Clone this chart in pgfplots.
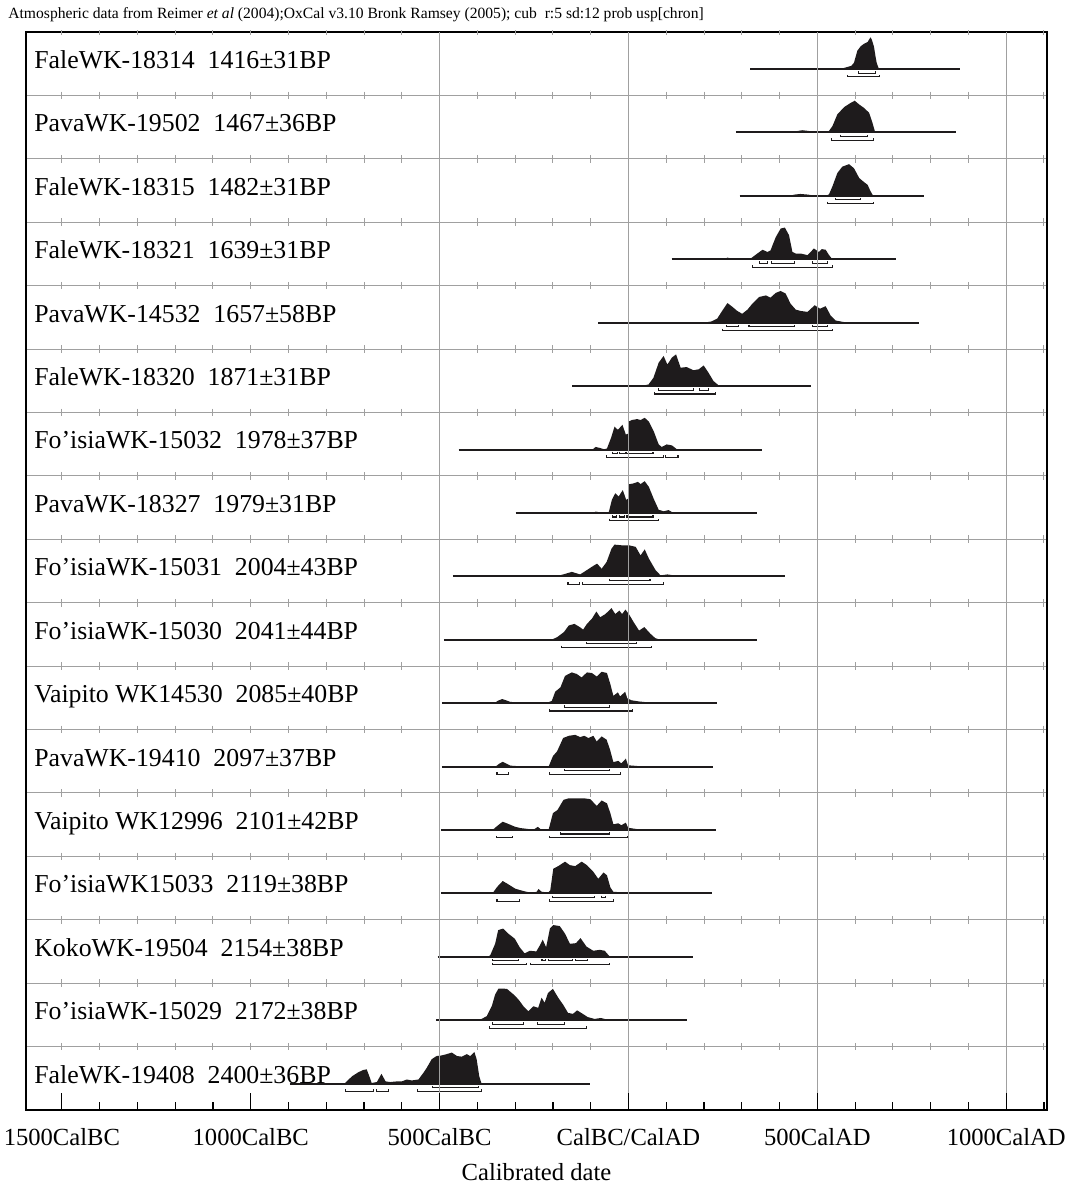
\documentclass[border=0pt]{standalone}
\usepackage{fontspec}
\setmainfont{Liberation Serif}
\usepackage{pgfplots}
\pgfplotsset{compat=1.18}
\definecolor{ink}{RGB}{30,27,28}
\definecolor{gridc}{RGB}{160,160,160}
\newcommand\lab{\fontsize{12.9pt}{15pt}\selectfont}
\newcommand\gap{\hspace{0.5em}}

% small ticks on the row separators, every 100 years
\newcommand{\tickrow}[2]{%
  \addplot[draw=gridc, line width=0.5pt, only marks, mark=|, mark size=#2, mark options={draw=gridc, line width=0.5pt}] coordinates {(-1500,#1)(-1400,#1)(-1300,#1)(-1200,#1)(-1100,#1)(-1000,#1)(-900,#1)(-800,#1)(-700,#1)(-600,#1)(-400,#1)(-300,#1)(-200,#1)(-100,#1)(100,#1)(200,#1)(300,#1)(400,#1)(600,#1)(700,#1)(800,#1)(900,#1)(1100,#1)};
}

% #1 row index (1 = top), #2 label, #3,#4 extent of the line, #5 density (year, relative height)
\newcommand{\drow}[5]{%
  \addplot[ink, line width=1pt, y filter/.expression={y+17.416-#1}] coordinates {(#3,0) (#4,0)};
  \addplot[fill=ink, draw=none, y filter/.expression={0.5*y+17.416-#1}] coordinates {#5};
  \node[anchor=base west, font=\lab, inner sep=0pt] at (axis cs:-1574,{17.424-#1}) {#2};
}
% 68.2% range
\newcommand{\rA}[3]{%
  \addplot[ink, line width=0.55pt, y filter/.expression={y+17.416-#1}] coordinates {(#2,-0.035) (#2,-0.064) (#3,-0.064) (#3,-0.035)};
}
% 95.4% range
\newcommand{\rB}[3]{%
  \addplot[ink, line width=0.55pt, y filter/.expression={y+17.416-#1}] coordinates {(#2,-0.092) (#2,-0.124) (#3,-0.124) (#3,-0.092)};
}

\begin{document}
\begin{tikzpicture}
\path[use as bounding box] (0,0) rectangle (537.5pt,592.5pt);
\begin{axis}[
  at={(13pt,37.5pt)}, anchor=south west,
  scale only axis, width=510.5pt, height=539pt,
  xmin=-1595, xmax=1108, ymin=0, ymax=17,
  axis on top,
  clip=false,
  axis line style={black, line width=0.6pt},
  xtick={-1500,-1000,-500,0,500,1000},
  xticklabels={1500CalBC,1000CalBC,500CalBC,CalBC/CalAD,500CalAD,1000CalAD},
  minor xtick={-1500,-1400,...,1100},
  xtick pos=lower,
  tick align=inside,
  major tick length=8.5pt, minor tick length=4pt,
  every tick/.style={black, line width=0.6pt},
  xticklabel style={font=\fontsize{12.3pt}{14pt}\selectfont, yshift=-5.5pt},
  extra x ticks={-500,0,500,1000},
  extra x tick labels={},
  extra x tick style={grid=major},
  ytick={1,...,16}, yticklabels={},
  ymajorgrids,
  ytick style={draw=none},
  major grid style={gridc, line width=0.5pt},
  xlabel={Calibrated date},
  xlabel style={font=\fontsize{12.3pt}{14pt}\selectfont, yshift=-2pt},
]
\tickrow{1}{1.9pt}\tickrow{2}{1.9pt}\tickrow{3}{1.9pt}\tickrow{4}{1.9pt}
\tickrow{5}{1.9pt}\tickrow{6}{1.9pt}\tickrow{7}{1.9pt}\tickrow{8}{1.9pt}
\tickrow{9}{1.9pt}\tickrow{10}{1.9pt}\tickrow{11}{1.9pt}\tickrow{12}{1.9pt}
\tickrow{13}{1.9pt}\tickrow{14}{1.9pt}\tickrow{15}{1.9pt}\tickrow{16}{1.9pt}
\tickrow{16.988}{1.3pt}

\drow{1}{FaleWK-18314\gap1416±31BP}{323}{878}{(562,0)(575,0.05)(590,0.1)(597,0.2)(606,0.58)(615,0.72)(624,0.8)(633,0.85)(638,0.95)(641,1)(645,0.9)(650,0.7)(654,0.4)(657,0.2)(663,0)}
\rA{1}{608}{654}\rB{1}{581}{664}

\drow{2}{PavaWK-19502\gap1467±36BP}{284}{868}{(430,0)(445,0.04)(460,0.07)(475,0.05)(490,0.01)(525,0.01)(531,0.05)(540,0.2)(553,0.57)(571,0.8)(588,0.93)(599,1)(611,0.88)(624,0.77)(637,0.62)(646,0.3)(652,0.05)(657,0)}
\rA{2}{562}{633}\rB{2}{538}{648}

\drow{3}{FaleWK-18315\gap1482±31BP}{294}{783}{(425,0)(440,0.04)(455,0.06)(475,0.04)(490,0.01)(525,0.01)(531,0.05)(540,0.3)(553,0.72)(566,0.92)(584,1)(597,0.87)(611,0.56)(624,0.43)(633,0.35)(641,0.14)(648,0)}
\rA{3}{549}{615}\rB{3}{528}{648}

\drow{4}{FaleWK-18321\gap1639±31BP}{114}{707}{(250,0)(262,0.05)(275,0.02)(300,0.01)(323,0.02)(341,0.18)(355,0.3)(368,0.23)(376,0.28)(390,0.7)(403,0.97)(414,1)(425,0.76)(434,0.23)(443,0.18)(456,0.18)(474,0.13)(491,0.34)(504,0.23)(512,0.32)(522,0.3)(531,0.13)(540,0)}
\rA{4}{348}{369}\rA{4}{378}{440}\rA{4}{488}{528}\rB{4}{328}{540}

\drow{5}{PavaWK-14532\gap1657±58BP}{-80}{768}{(200,0)(220,0.04)(235,0.13)(249,0.39)(262,0.62)(275,0.5)(288,0.37)(301,0.28)(315,0.41)(328,0.6)(346,0.81)(364,0.86)(376,0.79)(390,0.94)(403,1)(416,0.92)(429,0.6)(443,0.41)(456,0.37)(474,0.34)(493,0.55)(507,0.44)(522,0.52)(535,0.23)(548,0.07)(570,0.02)(596,0)}
\rA{5}{260}{291}\rA{5}{319}{440}\rA{5}{488}{528}\rB{5}{249}{540}

\drow{6}{FaleWK-18320\gap1871±31BP}{-149}{484}{(20,0)(40,0.02)(53,0.05)(66,0.26)(80,0.74)(93,0.95)(103,0.68)(115,0.9)(126,1)(138,0.58)(154,0.6)(172,0.5)(186,0.53)(199,0.65)(212,0.42)(225,0.16)(241,0)}
\rA{6}{79}{171}\rA{6}{189}{211}\rB{6}{70}{230}

\drow{7}{Fo’isiaWK-15032\gap1978±37BP}{-450}{354}{(-95,0)(-87,0.08)(-76,0.05)(-65,0.01)(-57,0.03)(-46,0.37)(-37,0.72)(-28,0.62)(-16,0.78)(-7,0.47)(-1,0.5)(0,0.88)(9,0.93)(23,0.96)(32,0.93)(43,1)(54,0.88)(67,0.57)(80,0.16)(88,0.08)(101,0.16)(115,0.13)(129,0)}
\rA{7}{-42}{-29}\rA{7}{-23}{-9}\rA{7}{-6}{65}\rB{7}{-59}{92}\rB{7}{99}{131}

\drow{8}{PavaWK-18327\gap1979±31BP}{-299}{341}{(-95,0)(-87,0.04)(-76,0.02)(-60,0.01)(-52,0.03)(-44,0.41)(-35,0.62)(-26,0.52)(-15,0.72)(-6,0.41)(-1,0.45)(0,0.9)(13,0.93)(25,0.98)(32,0.91)(43,1)(54,0.82)(67,0.44)(80,0.1)(93,0.05)(106,0.09)(119,0)}
\rA{8}{-42}{-31}\rA{8}{-23}{-11}\rA{8}{-4}{65}\rB{8}{-50}{80}

\drow{9}{Fo’isiaWK-15031\gap2004±43BP}{-465}{414}{(-195,0)(-185,0.02)(-167,0.08)(-150,0.14)(-128,0.06)(-111,0.19)(-93,0.33)(-83,0.4)(-71,0.24)(-58,0.45)(-45,0.87)(-37,1)(-19,0.98)(1,0.98)(19,0.93)(32,0.66)(43,0.85)(54,0.56)(72,0.19)(85,0.03)(103,0.06)(120,0.03)(133,0)}
\rA{9}{-50}{57}\rB{9}{-160}{-130}\rB{9}{-121}{92}

\drow{10}{Fo’isiaWK-15030\gap2041±44BP}{-489}{341}{(-360,0)(-347,0.02)(-330,0.02)(-313,0.01)(-250,0.005)(-202,0.01)(-189,0.08)(-171,0.24)(-158,0.45)(-143,0.5)(-129,0.4)(-120,0.32)(-110,0.5)(-97,0.66)(-85,0.89)(-75,0.71)(-61,0.81)(-45,1)(-35,0.81)(-24,0.92)(-17,0.81)(-8,0.95)(1,0.81)(14,0.55)(28,0.29)(42,0.4)(58,0.19)(71,0.05)(84,0)}
\rA{10}{-110}{21}\rB{10}{-178}{60}

\drow{11}{Vaipito WK14530\gap2085±40BP}{-494}{235}{(-355,0)(-345,0.08)(-334,0.13)(-322,0.08)(-313,0.04)(-290,0.02)(-260,0.01)(-216,0.01)(-203,0.07)(-194,0.36)(-180,0.5)(-168,0.86)(-150,0.97)(-137,0.92)(-124,0.81)(-110,0.97)(-97,0.95)(-84,0.84)(-71,0.99)(-57,0.95)(-48,0.6)(-40,0.23)(-28,0.34)(-22,0.21)(-9,0.36)(-3,0.15)(8,0.09)(30,0.05)(57,0.02)(80,0)}
\rA{11}{-170}{-50}\rB{11}{-209}{11}

\drow{12}{PavaWK-19410\gap2097±37BP}{-494}{224}{(-352,0)(-342,0.09)(-333,0.15)(-323,0.09)(-313,0.03)(-290,0.01)(-211,0.01)(-200,0.33)(-189,0.48)(-173,0.9)(-158,0.97)(-141,1)(-128,0.93)(-117,0.97)(-106,0.9)(-93,0.97)(-84,0.79)(-71,0.95)(-58,0.85)(-49,0.54)(-40,0.14)(-27,0.18)(-19,0.1)(-7,0.25)(-1,0.04)(21,0.02)(39,0)}
\rA{12}{-170}{-50}\rB{12}{-348}{-317}\rB{12}{-209}{-20}

\drow{13}{Vaipito WK12996\gap2101±42BP}{-496}{231}{(-360,0)(-345,0.15)(-333,0.26)(-320,0.2)(-300,0.1)(-286,0.06)(-265,0.03)(-250,0.02)(-240,0.1)(-232,0.02)(-211,0.03)(-200,0.53)(-188,0.63)(-172,0.95)(-158,1)(-136,1)(-118,1)(-101,0.97)(-84,0.76)(-71,0.93)(-57,0.84)(-48,0.53)(-40,0.18)(-27,0.21)(-19,0.15)(-7,0.23)(-1,0.07)(21,0.03)(48,0)}
\rA{13}{-180}{-50}\rB{13}{-350}{-308}\rB{13}{-209}{-3}

\drow{14}{Fo’isiaWK15033\gap2119±38BP}{-496}{222}{(-360,0)(-348,0.2)(-333,0.39)(-320,0.3)(-300,0.15)(-286,0.1)(-270,0.05)(-255,0.02)(-243,0.05)(-238,0.14)(-230,0.05)(-212,0.03)(-207,0.1)(-199,0.78)(-186,0.86)(-168,1)(-155,0.89)(-141,0.86)(-124,1)(-110,0.89)(-93,0.68)(-80,0.46)(-66,0.66)(-57,0.57)(-48,0.19)(-40,0.05)(-13,0.03)(-3,0)}
\rA{14}{-201}{-91}\rA{14}{-71}{-60}\rB{14}{-348}{-288}\rB{14}{-209}{-40}

\drow{15}{KokoWK-19504\gap2154±38BP}{-505}{171}{(-372,0)(-366,0.05)(-353,0.41)(-345,0.84)(-332,0.89)(-318,0.73)(-301,0.57)(-288,0.3)(-275,0.11)(-261,0.19)(-244,0.17)(-235,0.35)(-227,0.54)(-218,0.3)(-208,0.89)(-199,1)(-182,0.97)(-168,0.73)(-155,0.41)(-139,0.43)(-127,0.59)(-111,0.32)(-93,0.19)(-76,0.22)(-63,0.19)(-49,0)}
\rA{15}{-359}{-290}\rA{15}{-229}{-219}\rA{15}{-211}{-149}\rA{15}{-140}{-109}\rB{15}{-359}{-269}\rB{15}{-260}{-50}

\drow{16}{Fo’isiaWK-15029\gap2172±38BP}{-509}{156}{(-395,0)(-375,0.13)(-362,0.44)(-353,0.81)(-344,1)(-322,0.99)(-304,0.81)(-291,0.65)(-278,0.44)(-265,0.28)(-252,0.44)(-239,0.39)(-230,0.71)(-222,0.55)(-213,0.86)(-200,0.99)(-186,0.71)(-173,0.49)(-160,0.23)(-147,0.2)(-136,0.31)(-125,0.23)(-108,0.1)(-90,0.04)(-73,0.07)(-56,0.02)(-43,0)}
\rA{16}{-360}{-278}\rA{16}{-240}{-170}\rB{16}{-369}{-110}

\drow{17}{FaleWK-19408\gap2400±36BP}{-897}{-103}{(-752,0)(-732,0.23)(-715,0.36)(-702,0.43)(-693,0.45)(-686,0.23)(-680,0.02)(-666,0.05)(-654,0.31)(-643,0.07)(-631,0.05)(-613,0.07)(-600,0.07)(-587,0.13)(-574,0.1)(-556,0.13)(-543,0.34)(-534,0.5)(-521,0.77)(-508,0.87)(-494,0.89)(-481,0.93)(-468,0.98)(-454,0.87)(-441,0.85)(-428,0.93)(-419,0.87)(-408,1)(-402,0.77)(-395,0.23)(-389,0)}
\rA{17}{-519}{-397}\rB{17}{-748}{-676}\rB{17}{-668}{-636}\rB{17}{-559}{-389}
\end{axis}
\node[anchor=west, inner sep=0pt, font=\fontsize{7.8pt}{9pt}\selectfont] at (4pt,585pt) {Atmospheric data from Reimer \textit{et al} (2004);OxCal v3.10 Bronk Ramsey (2005); cub\ \ r:5 sd:12 prob usp[chron]};
\end{tikzpicture}
\end{document}
